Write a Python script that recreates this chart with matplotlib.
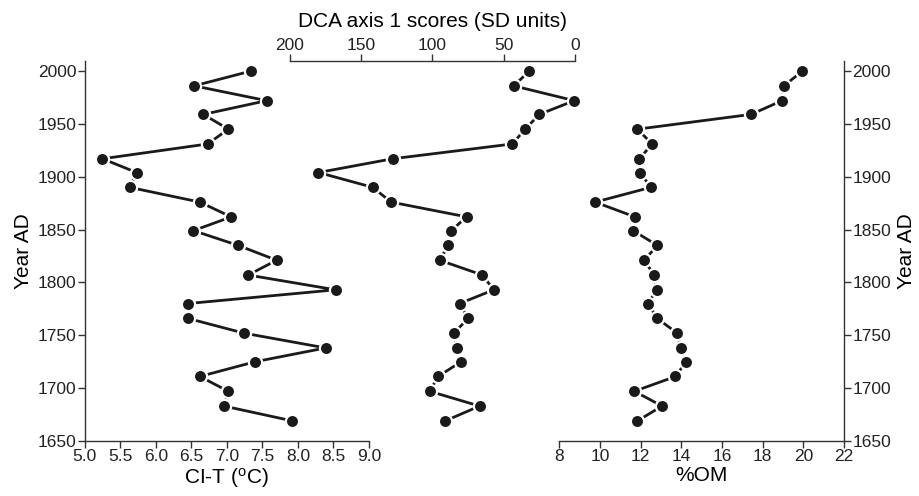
import numpy as np
from matplotlib import pyplot as plt

plt.rcParams['font.family'] = ['Liberation Sans', 'DejaVu Sans']
plt.rcParams['mathtext.fontset'] = 'custom'
plt.rcParams['mathtext.rm'] = 'Liberation Sans'

# sample years (same for all three records)
years = [2000, 1986, 1972, 1959, 1945, 1931, 1917, 1904, 1890, 1876, 1862, 1849, 1835,
         1821, 1807, 1793, 1780, 1766, 1752, 1738, 1725, 1711, 1697, 1683, 1669]

# chironomid-inferred temperature
cit = [7.34, 6.54, 7.56, 6.67, 7.02, 6.73, 5.25, 5.73, 5.63, 6.62, 7.06, 6.53, 7.16,
       7.70, 7.30, 8.53, 6.45, 6.45, 7.24, 8.39, 7.40, 6.62, 7.02, 6.96, 7.92]

# DCA axis 1 scores
dca = [32, 43, 0.5, 25, 35, 44, 128, 180, 142, 129, 76, 87, 89,
       95, 65, 57, 81, 75, 85, 83, 80, 96, 102, 67, 91]

# organic matter
om = [19.95, 19.04, 18.95, 17.43, 11.84, 12.56, 11.94, 11.95, 12.51, 9.76, 11.72, 11.63, 12.82,
      12.17, 12.66, 12.79, 12.36, 12.81, 13.79, 13.97, 14.23, 13.71, 11.69, 13.05, 11.84]

fig = plt.figure(figsize=(9.2, 4.96), dpi=100)

bot, h = 0.111, 0.766
ax1 = fig.add_axes([0.0921, bot, 0.309, h])
ax2 = fig.add_axes([0.3152, bot, 0.3098, h])
ax3 = fig.add_axes([0.608, bot, 0.3095, h])

line_kw = dict(color='#1a1a1a', lw=2.0, marker='o', ms=9.5, mfc='#1a1a1a',
               mec='white', mew=1.6, clip_on=False, zorder=3)
spine_c = '#333333'
tick_fs = 12.5
lab_fs = 15

for ax in (ax1, ax2, ax3):
    ax.set_ylim(1650, 2009.5)
    ax.patch.set_visible(False)
    for s in ax.spines.values():
        s.set_visible(False)
        s.set_color(spine_c)
        s.set_linewidth(1.0)
    ax.tick_params(colors=spine_c, labelcolor='#222222', labelsize=tick_fs,
                   length=5, width=1.0, pad=1)

# left panel
ax1.plot(cit, years, **line_kw)
ax1.set_xlim(5.0, 9.0)
ax1.set_xticks(np.arange(5.0, 9.01, 0.5))
ax1.set_xticklabels(['%.1f' % v for v in np.arange(5.0, 9.01, 0.5)])
ax1.spines['left'].set_visible(True)
ax1.spines['bottom'].set_visible(True)
ax1.set_yticks(range(1650, 2001, 50))
ax1.set_xlabel('CI-T ($\\mathrm{^o}$C)', fontsize=lab_fs, labelpad=1)
ax1.set_ylabel('Year AD', fontsize=lab_fs, labelpad=3)

# middle panel
ax2.plot(dca, years, **line_kw)
ax2.set_xlim(200, 0)
ax2.xaxis.set_ticks_position('top')
ax2.xaxis.set_label_position('top')
ax2.spines['top'].set_visible(True)
ax2.set_xticks(range(0, 201, 50))
ax2.set_yticks([])
ax2.set_xlabel('DCA axis 1 scores (SD units)', fontsize=lab_fs, labelpad=8)

# right panel
ax3.plot(om, years, **line_kw)
ax3.set_xlim(8, 22)
ax3.set_xticks(range(8, 23, 2))
ax3.spines['right'].set_visible(True)
ax3.spines['bottom'].set_visible(True)
ax3.yaxis.set_ticks_position('right')
ax3.yaxis.set_label_position('right')
ax3.set_yticks(range(1650, 2001, 50))
ax3.set_xlabel('%OM', fontsize=lab_fs, labelpad=1)
ax3.set_ylabel('Year AD', fontsize=lab_fs, labelpad=4)

fig.savefig('out.png', dpi=100)
